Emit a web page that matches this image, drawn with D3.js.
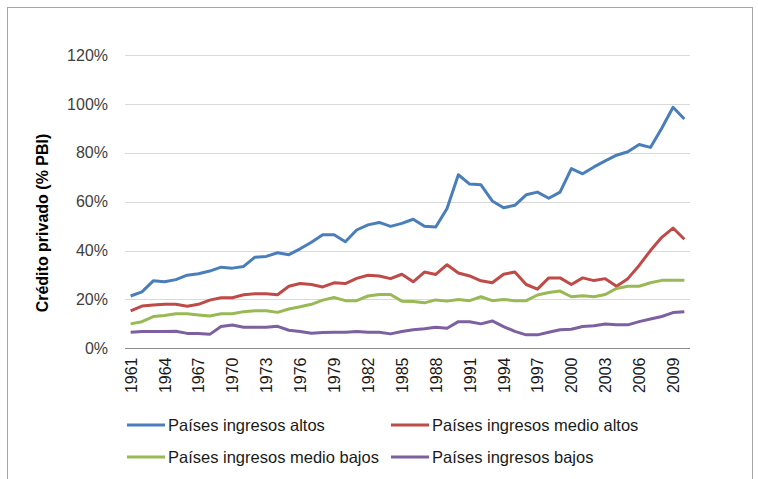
<!DOCTYPE html>
<html>
<head>
<meta charset="utf-8">
<script src="https://cdn.jsdelivr.net/npm/d3@7.9.0/dist/d3.min.js"></script>
<style>
  body { margin: 0; background: #fff; }
  svg { display: block; font-family: "Liberation Sans", Arial, sans-serif; }
</style>
</head>
<body>
<svg width="758" height="479"></svg>
<script>
// años 1961-2010
const years = d3.range(1961, 2011);
const tickYears = d3.range(1961, 2011, 3);
const yTicks = [0, 20, 40, 60, 80, 100, 120];

// crédito privado (% PBI)
const altos = [21.4, 23.1, 27.6, 27.2, 28.1, 29.9, 30.5, 31.6, 33.2, 32.8,
  33.5, 37.3, 37.6, 39.1, 38.3, 40.7, 43.4, 46.5, 46.5, 43.6,
  48.4, 50.5, 51.5, 49.9, 51.1, 52.8, 49.9, 49.6, 57.2, 71.0,
  67.2, 66.9, 60.3, 57.5, 58.5, 62.8, 63.9, 61.4, 63.9, 73.5,
  71.4, 74.2, 76.7, 79.0, 80.4, 83.4, 82.2, 90.0, 98.6, 93.8];
const medioAltos = [15.3, 17.3, 17.7, 18.0, 18.0, 17.2, 18.0, 19.7, 20.7, 20.7,
  21.9, 22.3, 22.3, 21.9, 25.4, 26.5, 26.1, 25.1, 26.8, 26.5,
  28.6, 29.9, 29.6, 28.5, 30.3, 27.2, 31.2, 30.2, 34.2, 30.8,
  29.6, 27.6, 26.8, 30.3, 31.2, 26.1, 24.2, 28.8, 28.8, 26.1,
  28.8, 27.7, 28.5, 25.4, 28.5, 33.9, 40.0, 45.4, 49.2, 44.6];
const medioBajos = [10.0, 10.9, 13.0, 13.4, 14.1, 14.1, 13.6, 13.2, 14.1, 14.1,
  15.0, 15.4, 15.4, 14.7, 16.1, 17.0, 18.0, 19.7, 20.8, 19.5,
  19.5, 21.4, 22.0, 22.0, 19.3, 19.1, 18.6, 19.8, 19.3, 20.0,
  19.5, 21.1, 19.5, 20.0, 19.5, 19.5, 21.8, 22.8, 23.4, 21.1,
  21.5, 21.1, 22.0, 24.5, 25.4, 25.4, 26.8, 27.8, 27.8, 27.8];
const bajos = [6.6, 6.9, 6.9, 6.9, 7.0, 6.1, 6.1, 5.7, 8.9, 9.5,
  8.6, 8.6, 8.6, 9.0, 7.4, 6.9, 6.2, 6.5, 6.6, 6.6,
  6.9, 6.6, 6.6, 5.9, 6.9, 7.6, 8.0, 8.6, 8.2, 10.9,
  10.9, 10.0, 11.2, 8.9, 6.9, 5.5, 5.5, 6.6, 7.6, 7.8,
  8.9, 9.2, 9.9, 9.6, 9.6, 10.9, 12.0, 13.0, 14.6, 15.0];

const series = [
  { name: "Países ingresos altos", values: altos, color: "#4A7EBB" },
  { name: "Países ingresos medio altos", values: medioAltos, color: "#BE4B48" },
  { name: "Países ingresos medio bajos", values: medioBajos, color: "#98B954" },
  { name: "Países ingresos bajos", values: bajos, color: "#7D60A0" }
];

const svg = d3.select("svg");
const plotLeft = 125, plotRight = 690, plotTop = 55, plotBottom = 348.3;

// marco exterior
svg.append("rect")
  .attr("x", 7.5).attr("y", 7.5).attr("width", 745).attr("height", 490)
  .attr("fill", "none").attr("stroke", "#a6a6a6").attr("stroke-width", 1);

const x = d3.scalePoint().domain(years).range([plotLeft, plotRight]).padding(0.5);
const y = d3.scaleLinear().domain([0, 120]).range([plotBottom, plotTop]);

// rejilla
svg.append("g")
  .selectAll("line")
  .data(yTicks.filter(d => d > 0))
  .join("line")
  .attr("x1", plotLeft).attr("x2", plotRight)
  .attr("y1", d => Math.round(y(d)) + 0.5).attr("y2", d => Math.round(y(d)) + 0.5)
  .attr("stroke", "#d9d9d9");

// eje Y
const yAxis = svg.append("g")
  .attr("transform", `translate(${plotLeft},0)`)
  .call(d3.axisLeft(y).tickValues(yTicks).tickSize(0).tickPadding(17).tickFormat(d => d + "%"));
yAxis.select(".domain").remove();
yAxis.selectAll("text").attr("font-size", 16).attr("fill", "#404040")
  .attr("font-family", "Liberation Sans, Arial, sans-serif");

// eje X
const xAxis = svg.append("g")
  .attr("transform", `translate(0,${Math.round(plotBottom) + 0.5})`)
  .call(d3.axisBottom(x).tickValues(tickYears).tickSize(0).tickPadding(0));
xAxis.select(".domain").attr("stroke", "#8c8c8c").attr("d", `M${plotLeft},0H${plotRight}`);
xAxis.selectAll("text")
  .attr("font-size", 16).attr("fill", "#1a1a1a")
  .attr("font-family", "Liberation Sans, Arial, sans-serif")
  .attr("text-anchor", "end")
  .attr("dy", null)
  .attr("y", 0)
  .attr("transform", "translate(0,9) rotate(-90)")
  .attr("dominant-baseline", "central");

// título eje Y
svg.append("text")
  .attr("transform", "translate(42,223) rotate(-90)")
  .attr("text-anchor", "middle")
  .attr("dominant-baseline", "central")
  .attr("font-size", 16).attr("font-weight", "bold").attr("fill", "#000")
  .text("Crédito privado (% PBI)");

// líneas
const line = d3.line()
  .x((d, i) => x(years[i]))
  .y(d => y(d));

svg.append("g")
  .selectAll("path")
  .data(series)
  .join("path")
  .attr("d", d => line(d.values))
  .attr("fill", "none")
  .attr("stroke", d => d.color)
  .attr("stroke-width", 3)
  .attr("stroke-linejoin", "round");

// leyenda
const legendPos = [[127, 425], [391, 425], [127, 457], [391, 457]];
const legend = svg.append("g")
  .selectAll("g")
  .data(series)
  .join("g")
  .attr("transform", (d, i) => `translate(${legendPos[i][0]},${legendPos[i][1]})`);
legend.append("line")
  .attr("x1", 0).attr("x2", 38).attr("y1", 0).attr("y2", 0)
  .attr("stroke", d => d.color).attr("stroke-width", 3);
legend.append("text")
  .attr("x", 41).attr("y", 0)
  .attr("dominant-baseline", "central")
  .attr("font-size", 16.5).attr("fill", "#1a1a1a")
  .text(d => d.name);
</script>
</body>
</html>
